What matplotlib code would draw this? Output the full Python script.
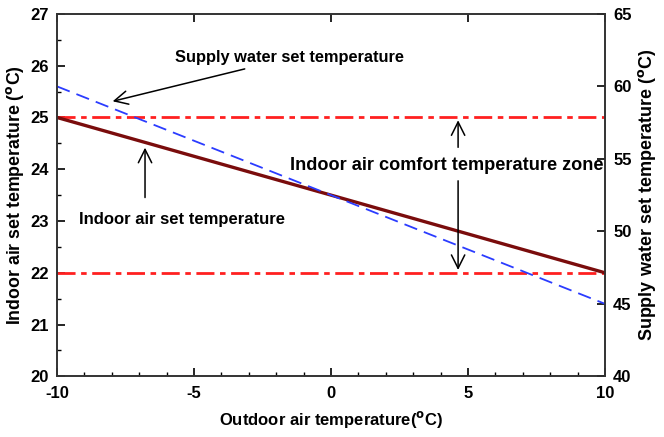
import numpy as np
import matplotlib
matplotlib.use("Agg")
from matplotlib import pyplot as plt
from matplotlib.ticker import MultipleLocator

plt.rcParams['font.family'] = ['Liberation Sans', 'DejaVu Sans']
plt.rcParams['font.weight'] = 'bold'
plt.rcParams['mathtext.default'] = 'bf'
plt.rcParams['axes.unicode_minus'] = False

# data
outdoor_t = [-10, -5, 0, 5, 10]
indoor_set = [25.0, 24.25, 23.5, 22.75, 22.0]
supply_set = [60.0, 56.25, 52.5, 48.75, 45.0]
comfort_low = 22
comfort_high = 25

fig, ax = plt.subplots(figsize=(6.64, 4.37), dpi=100)
fig.subplots_adjust(left=0.086, right=0.911, top=0.968, bottom=0.139)

ax.plot(outdoor_t, indoor_set, color="#7a0c0c", lw=2.4, zorder=3)
ax.axhline(comfort_high, color="#ff2020", lw=2, dashes=(6.5, 2, 2, 2))
ax.axhline(comfort_low, color="#ff2020", lw=2, dashes=(6.5, 2, 2, 2))

ax.set_xlim(-10, 10)
ax.set_ylim(20, 27)
ax.xaxis.set_major_locator(MultipleLocator(5))
ax.xaxis.set_minor_locator(MultipleLocator(1))
ax.yaxis.set_major_locator(MultipleLocator(1))
ax.yaxis.set_minor_locator(MultipleLocator(0.5))
ax.tick_params(axis="x", which="major", direction="in", top=True, length=6, width=1.2, labelsize=12, pad=7)
ax.tick_params(axis="x", which="minor", direction="in", top=False, length=3, width=1)
ax.tick_params(axis="y", which="major", direction="in", length=6, width=1.2, labelsize=12, pad=6)
ax.tick_params(axis="y", which="minor", direction="in", length=3, width=1)
ax.set_xlabel("Outdoor air temperature($^{o}$C)", fontsize=12, fontweight="bold", labelpad=6)
ax.set_ylabel("Indoor air set temperature ($^{o}$C)", fontsize=12.8, fontweight="bold", labelpad=3)

ax2 = ax.twinx()
ax2.plot(outdoor_t, supply_set, color="#2b3cff", lw=1.3, dashes=(7.5, 4))
ax2.set_ylim(40, 65)
ax2.yaxis.set_major_locator(MultipleLocator(5))
ax2.tick_params(axis="y", direction="in", length=6, width=1.2, labelsize=12, pad=6)
ax2.set_ylabel("Supply water set temperature ($^{o}$C)", fontsize=13, fontweight="bold", labelpad=3)

for a in (ax, ax2):
    for s in a.spines.values():
        s.set_linewidth(1.2)
        s.set_color("#333333")

arrow = dict(arrowstyle="->", color="black", lw=1.1, mutation_scale=24)
ax.annotate("Supply water set temperature", xy=(-8.07, 25.3), xytext=(-5.7, 26.15),
            fontsize=11.8, fontweight="bold", va="center", ha="left", arrowprops=arrow)
ax.text(-9.2, 23.02, "Indoor air set temperature", fontsize=12, fontweight="bold",
        va="center", ha="left")
ax.annotate("", xy=(-6.79, 24.47), xytext=(-6.79, 23.4), arrowprops=arrow)
ax.text(-1.5, 24.08, "Indoor air comfort temperature zone", fontsize=13.1, fontweight="bold",
        va="center", ha="left")
ax.annotate("", xy=(4.64, 25.0), xytext=(4.64, 24.37), arrowprops=arrow)
ax.annotate("", xy=(4.64, 22.0), xytext=(4.64, 23.83), arrowprops=arrow)

fig.savefig("out.png", dpi=100)
